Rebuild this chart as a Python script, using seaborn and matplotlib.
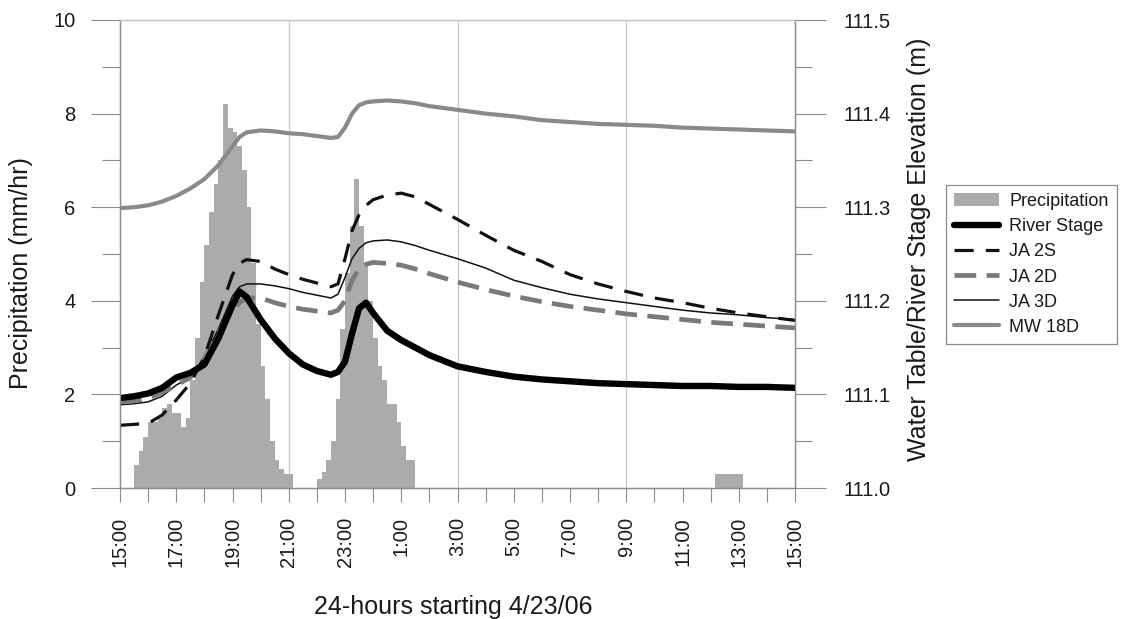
import numpy as np
import pandas as pd
import matplotlib
matplotlib.use("Agg")
import matplotlib.pyplot as plt
import seaborn as sns
from matplotlib.ticker import MultipleLocator, FormatStrFormatter
from matplotlib.lines import Line2D
from matplotlib.patches import Patch

sns.set_theme(style="white")
plt.rcParams["font.family"] = ["Liberation Sans", "DejaVu Sans"]

# ---- data ---------------------------------------------------------------
# hours elapsed since 15:00 on 4/23/06
hours = [0, 0.5, 1, 1.5, 2, 2.5, 3, 3.5, 4, 4.25, 4.5, 5, 5.5, 6, 6.5, 7,
         7.5, 7.75, 8, 8.25, 8.5, 8.75, 9, 9.5, 10, 10.5, 11, 12, 13, 14,
         15, 16, 17, 18, 19, 20, 21, 22, 23, 24]

river_stage = [111.096, 111.098, 111.101, 111.107, 111.118, 111.123, 111.132,
               111.160, 111.195, 111.210, 111.204, 111.180, 111.160, 111.144,
               111.132, 111.125, 111.121, 111.124, 111.135, 111.165, 111.192,
               111.198, 111.187, 111.168, 111.158, 111.150, 111.142, 111.130,
               111.124, 111.119, 111.116, 111.114, 111.112, 111.111, 111.110,
               111.109, 111.109, 111.108, 111.108, 111.107]

ja_2s = [111.067, 111.068, 111.069, 111.078, 111.094, 111.112, 111.140,
         111.185, 111.228, 111.240, 111.244, 111.242, 111.234, 111.228,
         111.223, 111.219, 111.215, 111.218, 111.245, 111.275, 111.292,
         111.302, 111.308, 111.313, 111.315, 111.311, 111.303, 111.287,
         111.270, 111.254, 111.242, 111.228, 111.218, 111.210, 111.203,
         111.198, 111.192, 111.187, 111.183, 111.179]

ja_2d = [111.092, 111.093, 111.096, 111.102, 111.110, 111.118, 111.138,
         111.165, 111.190, 111.198, 111.203, 111.203, 111.198, 111.194,
         111.191, 111.189, 111.187, 111.190, 111.200, 111.222, 111.234,
         111.239, 111.241, 111.240, 111.238, 111.234, 111.229, 111.220,
         111.212, 111.205, 111.199, 111.194, 111.190, 111.186, 111.183,
         111.180, 111.177, 111.175, 111.173, 111.171]

ja_3d = [111.089, 111.090, 111.092, 111.098, 111.110, 111.118, 111.140,
         111.170, 111.205, 111.215, 111.218, 111.218, 111.216, 111.213,
         111.209, 111.206, 111.203, 111.207, 111.225, 111.245, 111.256,
         111.262, 111.264, 111.265, 111.263, 111.259, 111.254, 111.245,
         111.235, 111.222, 111.214, 111.207, 111.202, 111.198, 111.194,
         111.190, 111.187, 111.185, 111.182, 111.180]

mw_18d = [111.299, 111.300, 111.302, 111.306, 111.312, 111.320, 111.330,
          111.345, 111.365, 111.375, 111.380, 111.382, 111.381, 111.379,
          111.378, 111.376, 111.374, 111.375, 111.385, 111.400, 111.409,
          111.412, 111.413, 111.414, 111.413, 111.411, 111.408, 111.404,
          111.400, 111.397, 111.393, 111.391, 111.389, 111.388, 111.387,
          111.385, 111.384, 111.383, 111.382, 111.381]

# 10-minute precipitation intensity (mm/hr), one row per clock hour
precip_mm_hr = [
    0.0, 0.0, 0.0, 0.5, 0.8, 1.1,   # 15:00
    1.4, 1.4, 1.5, 1.7, 1.8, 1.6,   # 16:00
    1.6, 1.3, 1.5, 2.3, 3.2, 4.4,   # 17:00
    5.2, 5.9, 6.5, 7.0, 8.2, 7.7,   # 18:00
    7.6, 7.3, 6.8, 6.0, 4.8, 3.5,   # 19:00
    2.6, 1.9, 1.0, 0.6, 0.4, 0.3,   # 20:00
    0.3, 0.0, 0.0, 0.0, 0.0, 0.0,   # 21:00
    0.2, 0.35, 0.6, 1.0, 1.9, 3.4,  # 22:00
    4.6, 5.6, 6.6, 5.6, 4.8, 4.0,   # 23:00
    3.2, 2.6, 2.3, 1.8, 1.8, 1.4,   # 0:00
    0.9, 0.6, 0.6, 0.0, 0.0, 0.0,   # 1:00
    0.0, 0.0, 0.0, 0.0, 0.0, 0.0,   # 2:00
    0.0, 0.0, 0.0, 0.0, 0.0, 0.0,   # 3:00
    0.0, 0.0, 0.0, 0.0, 0.0, 0.0,   # 4:00
    0.0, 0.0, 0.0, 0.0, 0.0, 0.0,   # 5:00
    0.0, 0.0, 0.0, 0.0, 0.0, 0.0,   # 6:00
    0.0, 0.0, 0.0, 0.0, 0.0, 0.0,   # 7:00
    0.0, 0.0, 0.0, 0.0, 0.0, 0.0,   # 8:00
    0.0, 0.0, 0.0, 0.0, 0.0, 0.0,   # 9:00
    0.0, 0.0, 0.0, 0.0, 0.0, 0.0,   # 10:00
    0.0, 0.0, 0.0, 0.0, 0.0, 0.0,   # 11:00
    0.0, 0.3, 0.3, 0.3, 0.3, 0.3,   # 12:00
    0.3, 0.0, 0.0, 0.0, 0.0, 0.0,   # 13:00
    0.0, 0.0, 0.0, 0.0, 0.0, 0.0,   # 14:00
]

x_tick_labels = ["15:00", "17:00", "19:00", "21:00", "23:00", "1:00", "3:00",
                 "5:00", "7:00", "9:00", "11:00", "13:00", "15:00"]

# ---- styling ------------------------------------------------------------
PRECIP_COLOR = "#ababab"
AXIS_GRAY = "#8c8c8c"
TEXT = "#1a1a1a"
TICK_FS = 14.5
LABEL_FS = 18

fig = plt.figure(figsize=(11.21, 6.19), dpi=100)
fig.patch.set_facecolor("white")
ax = fig.add_axes([120 / 1121, 1 - 488 / 619, 675 / 1121, 468 / 619])
ax.set_facecolor("white")

# precipitation as a stepped histogram weighted by intensity
n_bins = len(precip_mm_hr)
bin_width = 24 / n_bins
precip_df = pd.DataFrame({
    "hours": (np.arange(n_bins) + 0.5) * bin_width,
    "precip": precip_mm_hr,
})
sns.histplot(data=precip_df, x="hours", weights="precip", bins=n_bins,
             binrange=(0, 24), element="step", fill=True, color=PRECIP_COLOR,
             alpha=1.0, linewidth=0, ax=ax, zorder=2)

ax2 = ax.twinx()

df = pd.DataFrame({"hours": hours, "River Stage": river_stage,
                   "JA 2S": ja_2s, "JA 2D": ja_2d, "JA 3D": ja_3d,
                   "MW 18D": mw_18d})

line_styles = {
    "MW 18D": dict(color="#8a8a8a", linewidth=3.0, linestyle="-"),
    "JA 3D": dict(color="#111111", linewidth=1.1, linestyle="-"),
    "JA 2D": dict(color="#7a7a7a", linewidth=3.4, linestyle=(0, (4.6, 2.2))),
    "JA 2S": dict(color="#111111", linewidth=2.3, linestyle=(0, (6.0, 3.8))),
    "River Stage": dict(color="#000000", linewidth=4.6, linestyle="-"),
}
for name, st in line_styles.items():
    sns.lineplot(data=df, x="hours", y=name, ax=ax2, **st)

# ---- axes ---------------------------------------------------------------
ax.set_xlim(0, 24)
ax.set_ylim(0, 10)
ax2.set_ylim(111.0, 111.5)

ax.set_xticks(np.arange(0, 25, 2))
ax.set_xticklabels(x_tick_labels, rotation=90)
ax.xaxis.set_minor_locator(MultipleLocator(1))
ax.yaxis.set_major_locator(MultipleLocator(2))
ax.yaxis.set_minor_locator(MultipleLocator(1))
ax2.yaxis.set_major_locator(MultipleLocator(0.1))
ax2.yaxis.set_minor_locator(MultipleLocator(0.05))
ax2.yaxis.set_major_formatter(FormatStrFormatter("%.1f"))

ax.tick_params(axis="x", which="both", direction="out", length=10, width=0.8,
               color=AXIS_GRAY, labelsize=TICK_FS, labelcolor=TEXT, pad=11,
               bottom=True)
ax.tick_params(axis="y", which="major", direction="out", length=21, width=0.8,
               color=AXIS_GRAY, labelsize=TICK_FS, labelcolor=TEXT, pad=11,
               left=True)
ax.tick_params(axis="y", which="minor", direction="out", length=13, width=0.8,
               color=AXIS_GRAY, left=True)
ax2.tick_params(axis="y", which="major", direction="out", length=22, width=0.8,
                color=AXIS_GRAY, labelsize=TICK_FS, labelcolor=TEXT, pad=13,
                right=True)
ax2.tick_params(axis="y", which="minor", direction="out", length=12.5,
                width=0.8, color=AXIS_GRAY, right=True)

ax.grid(False)
ax2.grid(False)
for h in (6, 12, 18):
    ax.axvline(h, color="#c9c9c9", linewidth=0.9, zorder=1)

for a in (ax, ax2):
    for side in ("left", "right", "bottom"):
        a.spines[side].set_color(AXIS_GRAY)
        a.spines[side].set_linewidth(0.9)
    a.spines["top"].set_color("#c4c4c4")
    a.spines["top"].set_linewidth(0.9)

ax.set_xlabel("24-hours starting 4/23/06", fontsize=LABEL_FS, color=TEXT)
ax.set_ylabel("Precipitation (mm/hr)", fontsize=LABEL_FS, color=TEXT)
ax2.set_ylabel("Water Table/River Stage Elevation (m)", fontsize=LABEL_FS,
               color=TEXT)
ax.xaxis.set_label_coords(0.493, -0.228)
ax.yaxis.set_label_coords(-0.129, 0.46)
ax2.yaxis.set_label_coords(1.166, 0.51)

# ---- legend -------------------------------------------------------------
handles = [Patch(facecolor=PRECIP_COLOR, edgecolor="none", label="Precipitation")]
for name in ["River Stage", "JA 2S", "JA 2D", "JA 3D", "MW 18D"]:
    st = line_styles[name]
    handles.append(Line2D([], [], label=name, **st))
leg = fig.legend(handles=handles, loc="upper left",
                 bbox_to_anchor=(946 / 1121, 1 - 185 / 619),
                 fontsize=13, frameon=True, fancybox=False, framealpha=1,
                 edgecolor="#8c8c8c", handlelength=2.5, handletextpad=0.55,
                 labelspacing=0.45, borderpad=0.45, borderaxespad=0)
leg.get_frame().set_linewidth(0.9)
for t in leg.get_texts():
    t.set_color(TEXT)

fig.savefig("out.png", dpi=100, facecolor="white")
